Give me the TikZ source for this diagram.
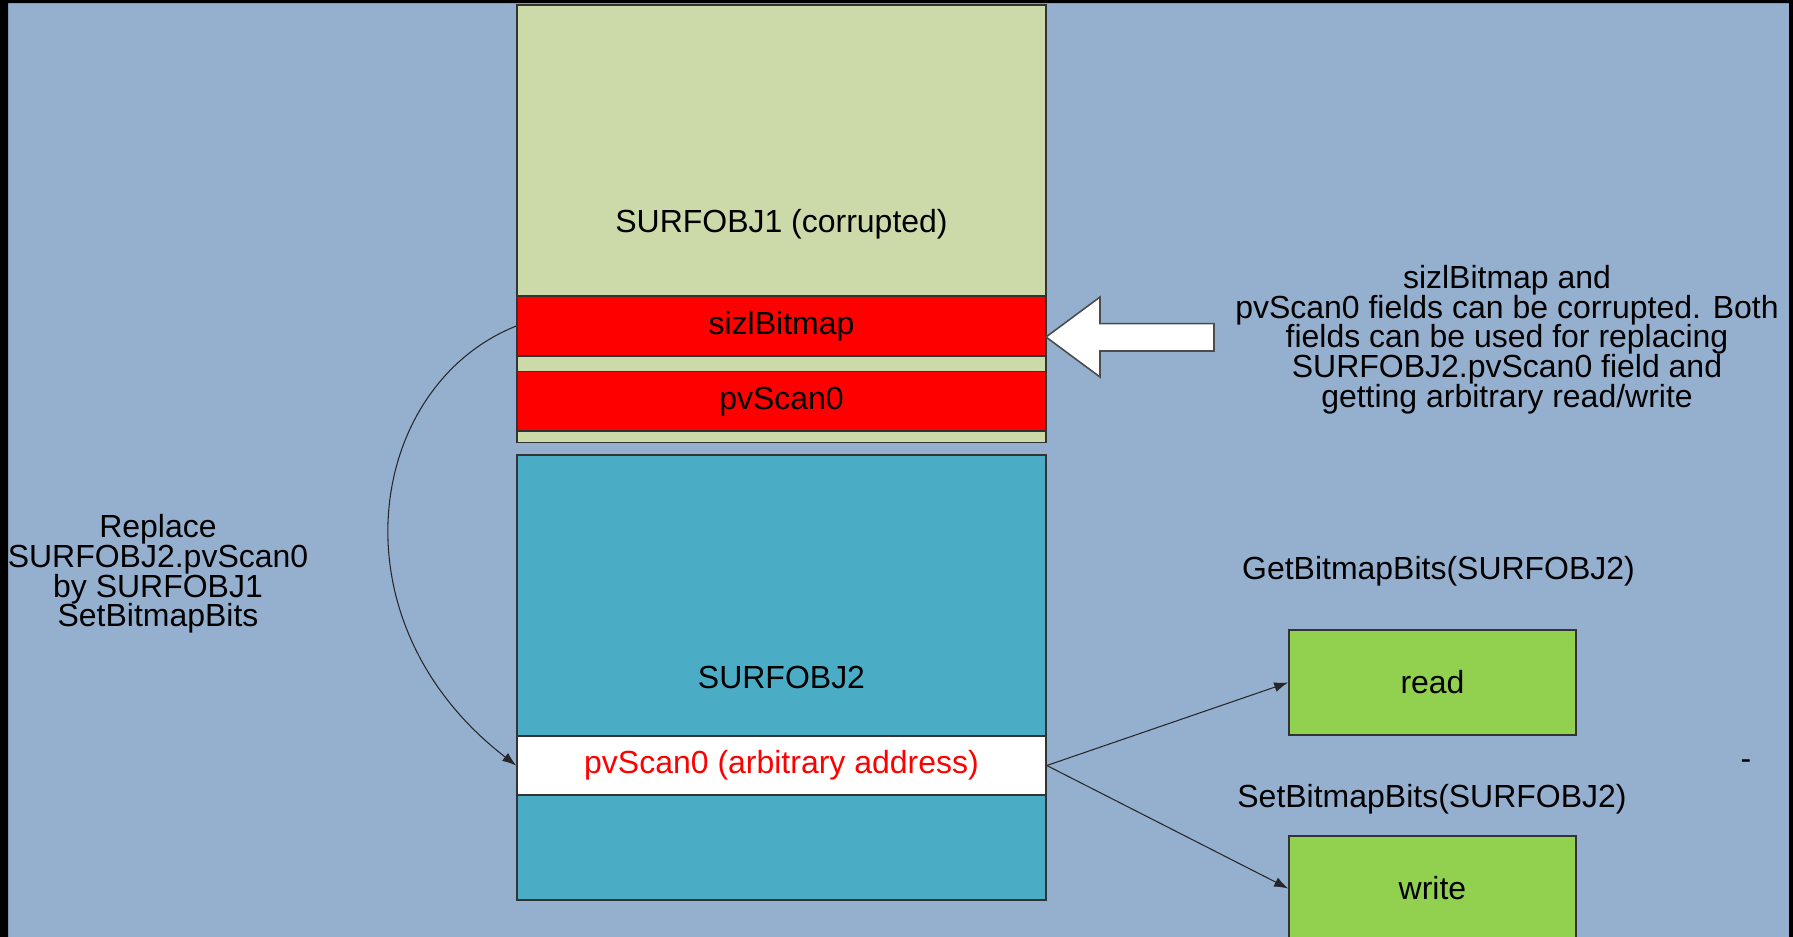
\documentclass[tikz,border=0pt]{standalone}
\usepackage{fontspec}
\setmainfont{Liberation Sans}
\usetikzlibrary{positioning,arrows.meta}
\usepackage{xcolor}
\definecolor{slateblue}{HTML}{95B0CF}
\definecolor{palegreen}{HTML}{CCDAAA}
\definecolor{tealbox}{HTML}{4BACC6}
\definecolor{limebox}{HTML}{92D050}
\newcommand\diagfont{\fontsize{9.1}{8.45}\selectfont\lineskiplimit=-9pt\relax}

\begin{document}
\begin{tikzpicture}[x=0.1mm,y=-0.1mm,
  every node/.style={font=\diagfont,inner sep=0pt},
  block/.style={draw=black!80,line width=.45pt,minimum width=52.9mm},
  field/.style={block,fill=red,minimum height=5.95mm},
  op/.style={draw=black!80,line width=.45pt,fill=limebox,minimum width=28.7mm,minimum height=10.5mm},
  link/.style={-{Latex[length=1.4mm,width=1mm]},line width=.3pt,black!85}]
\useasboundingbox (0,0) rectangle (1793,937);
\clip (0,0) rectangle (1793,937);
\fill[slateblue] (0,0) rectangle (1793,937);
\fill[black] (0,0) rectangle (8,937) (0,0) rectangle (1793,3) (1789,0) rectangle (1793,937);
% first surface with its two fields
\node[block,fill=palegreen,minimum height=43.75mm] (surf1) at (781.5,223.75) {SURFOBJ1 (corrupted)};
\node[field] (sizl) at (781.5,326) {sizlBitmap};
\node[field] (scan1) at (781.5,401.3) {pvScan0};
% second surface
\node[block,fill=tealbox,minimum height=44.5mm] (surf2) at (781.5,677.5) {SURFOBJ2};
\node[block,fill=white,minimum height=5.9mm,text=red] (arb) at (781.5,765.5) {pvScan0 (arbitrary address)};
% hollow pointer
\draw[black!70,fill=white,line width=.45pt] (1046,337) -- (1100,297) -- (1100,323.6) -- (1214,323.6)
  -- (1214,351) -- (1100,351) -- (1100,377) -- cycle;
\node[align=center] (note) at (1507,339.5) {sizlBitmap and\\pvScan0 fields can be corrupted. Both\\fields can be used for replacing\\SURFOBJ2.pvScan0 field and\\getting arbitrary read/write};
\node[align=center] (replace) at (158,574) {Replace\\SURFOBJ2.pvScan0\\by SURFOBJ1\\SetBitmapBits};
\draw[link] (sizl.west) .. controls +(-150,60) and +(-187,-144) .. (arb.west);
% read / write
\node[op] (read) at (1432.5,682.5) {read};
\node[op] (write) at (1432.5,888.5) {write};
\node (getbits) at (1438.5,571.5) {GetBitmapBits(SURFOBJ2)};
\node (setbits) at (1432,799.5) {SetBitmapBits(SURFOBJ2)};
\draw[link] (arb.east) -- (read.west);
\draw[link] (arb.east) -- (write.west);
\node (dash) at (1746,765) {-};
\end{tikzpicture}
\end{document}
